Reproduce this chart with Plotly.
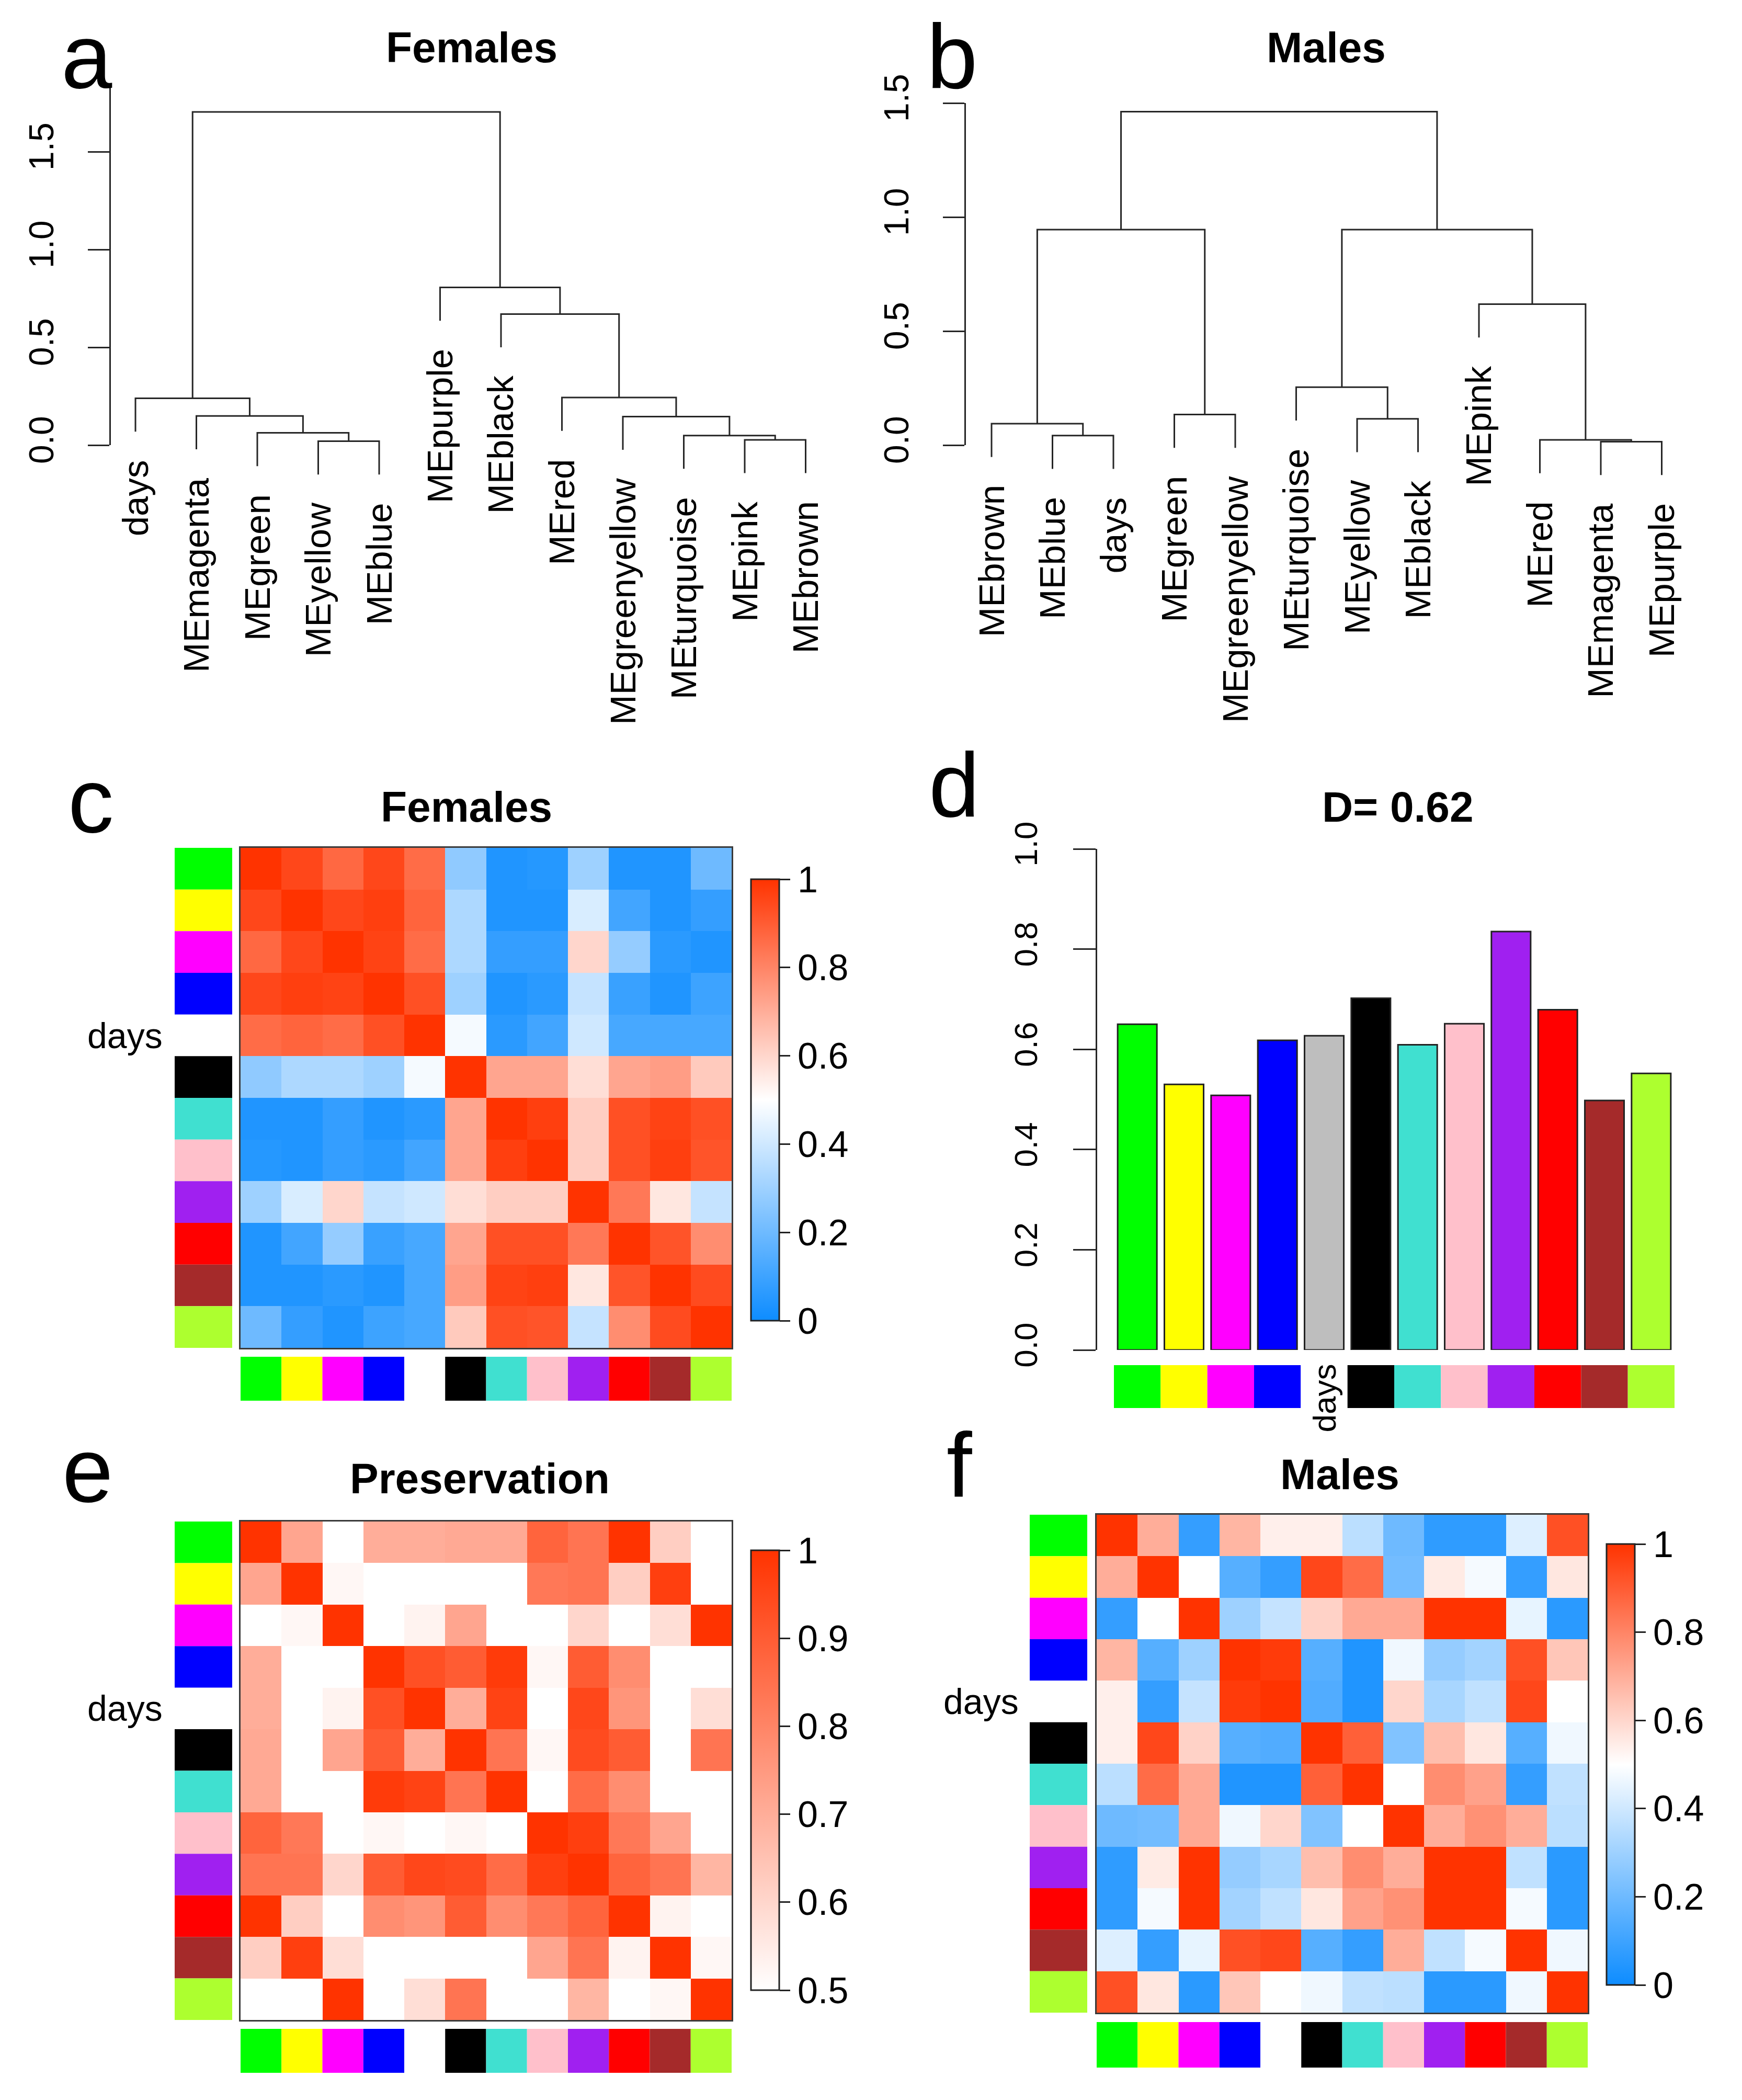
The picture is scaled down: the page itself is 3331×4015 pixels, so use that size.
import plotly.graph_objects as go

W, H = 3331, 4015
OFF = 8  # default page (body) margin of the written html
FONT = "Liberation Sans, Arial, Helvetica, sans-serif"

# ---------------- data ----------------
module_labels = ["MEgreen", "MEyellow", "MEmagenta", "MEblue", "days", "MEblack",
                 "MEturquoise", "MEpink", "MEpurple", "MEred", "MEbrown", "MEgreenyellow"]
strip_colors = ["#00FF00", "#FFFF00", "#FF00FF", "#0000FF", "#FFFFFF", "#000000",
                "#40E0D0", "#FFC0CB", "#A020F0", "#FF0000", "#A52A2A", "#ADFF2F"]
bar_colors = ["#00FF00", "#FFFF00", "#FF00FF", "#0000FF", "#BEBEBE", "#000000",
              "#40E0D0", "#FFC0CB", "#A020F0", "#FF0000", "#A52A2A", "#ADFF2F"]

fem_leaves = ["days", "MEmagenta", "MEgreen", "MEyellow", "MEblue", "MEpurple", "MEblack",
              "MEred", "MEgreenyellow", "MEturquoise", "MEpink", "MEbrown"]
# (child, child, height); integers refer to earlier merges
fem_merges = [("MEyellow", "MEblue", 0.020), ("MEgreen", 0, 0.063), ("MEmagenta", 1, 0.149),
              ("days", 2, 0.239), ("MEpink", "MEbrown", 0.027), ("MEturquoise", 4, 0.049),
              ("MEgreenyellow", 5, 0.146), ("MEred", 6, 0.243), ("MEblack", 7, 0.670),
              ("MEpurple", 8, 0.806), (3, 9, 1.703)]

male_leaves = ["MEbrown", "MEblue", "days", "MEgreen", "MEgreenyellow", "MEturquoise",
               "MEyellow", "MEblack", "MEpink", "MEred", "MEmagenta", "MEpurple"]
male_merges = [("MEblue", "days", 0.042), ("MEbrown", 0, 0.094), ("MEgreen", "MEgreenyellow", 0.134),
               (1, 2, 0.945), ("MEyellow", "MEblack", 0.115), ("MEturquoise", 4, 0.254),
               ("MEmagenta", "MEpurple", 0.015), ("MEred", 6, 0.023), ("MEpink", 7, 0.618),
               (5, 8, 0.945), (3, 9, 1.462)]

dendro_tickvals = [0.0, 0.5, 1.0, 1.5]
dendro_ticktext = ["0.0", "0.5", "1.0", "1.5"]

preservation_D = [0.650, 0.530, 0.508, 0.618, 0.627, 0.702, 0.609, 0.651, 0.835, 0.679, 0.498, 0.552]
bar_tickvals = [0.0, 0.2, 0.4, 0.6, 0.8, 1.0]
bar_ticktext = ["0.0", "0.2", "0.4", "0.6", "0.8", "1.0"]

fem_adj = [
    [1.00, 0.95, 0.87, 0.95, 0.86, 0.27, 0.04, 0.05, 0.30, 0.04, 0.04, 0.20],
    [0.95, 1.00, 0.95, 0.97, 0.88, 0.33, 0.04, 0.04, 0.42, 0.11, 0.04, 0.08],
    [0.87, 0.95, 1.00, 0.96, 0.86, 0.33, 0.08, 0.08, 0.60, 0.28, 0.06, 0.04],
    [0.95, 0.97, 0.96, 1.00, 0.93, 0.30, 0.04, 0.06, 0.38, 0.09, 0.04, 0.10],
    [0.86, 0.88, 0.86, 0.93, 1.00, 0.48, 0.06, 0.11, 0.40, 0.12, 0.12, 0.12],
    [0.27, 0.33, 0.33, 0.30, 0.48, 1.00, 0.72, 0.72, 0.58, 0.72, 0.74, 0.63],
    [0.04, 0.04, 0.08, 0.04, 0.06, 0.72, 1.00, 0.97, 0.62, 0.93, 0.96, 0.93],
    [0.05, 0.04, 0.08, 0.06, 0.11, 0.72, 0.97, 1.00, 0.62, 0.93, 0.97, 0.92],
    [0.30, 0.42, 0.60, 0.38, 0.40, 0.58, 0.62, 0.62, 1.00, 0.83, 0.56, 0.38],
    [0.04, 0.11, 0.28, 0.09, 0.12, 0.72, 0.93, 0.93, 0.83, 1.00, 0.92, 0.78],
    [0.04, 0.04, 0.06, 0.04, 0.12, 0.74, 0.96, 0.97, 0.56, 0.92, 1.00, 0.94],
    [0.20, 0.08, 0.04, 0.10, 0.12, 0.63, 0.93, 0.92, 0.38, 0.78, 0.94, 1.00],
]

male_adj = [
    [1.00, 0.70, 0.08, 0.68, 0.54, 0.54, 0.36, 0.20, 0.07, 0.07, 0.43, 0.93],
    [0.70, 1.00, 0.50, 0.15, 0.08, 0.95, 0.86, 0.21, 0.55, 0.48, 0.08, 0.56],
    [0.08, 0.50, 1.00, 0.30, 0.38, 0.61, 0.71, 0.71, 1.00, 1.00, 0.45, 0.06],
    [0.68, 0.15, 0.30, 1.00, 0.98, 0.15, 0.04, 0.47, 0.28, 0.31, 0.93, 0.64],
    [0.54, 0.08, 0.38, 0.98, 1.00, 0.14, 0.04, 0.60, 0.32, 0.37, 0.95, 0.50],
    [0.54, 0.95, 0.61, 0.15, 0.14, 1.00, 0.89, 0.24, 0.66, 0.56, 0.15, 0.47],
    [0.36, 0.86, 0.71, 0.04, 0.04, 0.89, 1.00, 0.50, 0.78, 0.73, 0.08, 0.37],
    [0.20, 0.21, 0.71, 0.47, 0.60, 0.24, 0.50, 1.00, 0.70, 0.77, 0.70, 0.36],
    [0.07, 0.55, 1.00, 0.28, 0.32, 0.66, 0.78, 0.70, 1.00, 1.00, 0.37, 0.06],
    [0.07, 0.48, 1.00, 0.31, 0.37, 0.56, 0.73, 0.77, 1.00, 1.00, 0.48, 0.06],
    [0.43, 0.08, 0.45, 0.93, 0.95, 0.15, 0.08, 0.70, 0.37, 0.48, 1.00, 0.47],
    [0.93, 0.56, 0.06, 0.64, 0.50, 0.47, 0.37, 0.36, 0.06, 0.06, 0.47, 1.00],
]

pres_mat = [
    [1.00, 0.72, 0.50, 0.70, 0.70, 0.71, 0.71, 0.88, 0.84, 1.00, 0.62, 0.50],
    [0.72, 1.00, 0.52, 0.50, 0.50, 0.50, 0.50, 0.83, 0.84, 0.62, 0.97, 0.50],
    [0.50, 0.52, 1.00, 0.50, 0.53, 0.72, 0.50, 0.50, 0.60, 0.50, 0.58, 1.00],
    [0.70, 0.50, 0.50, 1.00, 0.93, 0.90, 0.98, 0.52, 0.90, 0.78, 0.50, 0.50],
    [0.70, 0.50, 0.53, 0.93, 1.00, 0.70, 0.96, 0.50, 0.95, 0.76, 0.50, 0.58],
    [0.71, 0.50, 0.72, 0.90, 0.70, 1.00, 0.84, 0.52, 0.94, 0.90, 0.50, 0.84],
    [0.71, 0.50, 0.50, 0.98, 0.96, 0.84, 1.00, 0.50, 0.86, 0.78, 0.50, 0.50],
    [0.88, 0.83, 0.50, 0.52, 0.50, 0.52, 0.50, 1.00, 0.97, 0.83, 0.72, 0.50],
    [0.84, 0.84, 0.60, 0.90, 0.95, 0.94, 0.86, 0.97, 1.00, 0.88, 0.84, 0.68],
    [1.00, 0.62, 0.50, 0.78, 0.76, 0.90, 0.78, 0.83, 0.88, 1.00, 0.53, 0.50],
    [0.62, 0.97, 0.58, 0.50, 0.50, 0.50, 0.50, 0.72, 0.84, 0.53, 1.00, 0.52],
    [0.50, 0.50, 1.00, 0.50, 0.58, 0.84, 0.50, 0.50, 0.68, 0.50, 0.52, 1.00],
]

adj_tickvals = [0, 0.2, 0.4, 0.6, 0.8, 1.0]
adj_ticktext = ["0", "0.2", "0.4", "0.6", "0.8", "1"]
pres_tickvals = [0.5, 0.6, 0.7, 0.8, 0.9, 1.0]
pres_ticktext = ["0.5", "0.6", "0.7", "0.8", "0.9", "1"]

# ---------------- styles ----------------
BWR = [[0.0, "rgb(13,140,255)"], [0.5, "rgb(255,255,255)"], [1.0, "rgb(255,51,0)"]]
WR = [[0.0, "rgb(255,255,255)"], [1.0, "rgb(255,51,0)"]]
LINE = "#262626"

fig = go.Figure()
layout_axes = {}
annotations = []
counter = [0]


def clamp(v):
    return min(1.0, max(0.0, v))


def px_x(p):
    return (p - OFF) / W


def px_y(p):
    return 1 - (p - OFF) / H


def add_axes(x_px, y_px, xr, yr, xopts=None, yopts=None):
    counter[0] += 1
    s = "" if counter[0] == 1 else str(counter[0])
    xa = dict(domain=[clamp(px_x(x_px[0])), clamp(px_x(x_px[1]))], range=xr, anchor="y" + s,
              visible=False, fixedrange=True, showgrid=False, zeroline=False)
    ya = dict(domain=[clamp(px_y(y_px[1])), clamp(px_y(y_px[0]))], range=yr, anchor="x" + s,
              visible=False, fixedrange=True, showgrid=False, zeroline=False)
    if xopts:
        xa.update(xopts)
    if yopts:
        ya.update(yopts)
    layout_axes["xaxis" + s] = xa
    layout_axes["yaxis" + s] = ya
    return "x" + s, "y" + s


def text(x, y, s, size, bold=False, **kw):
    d = dict(x=x, y=y, text=("<b>%s</b>" % s) if bold else s, showarrow=False,
             font=dict(family=FONT, size=size, color="black"),
             xref="paper", yref="paper", xanchor="center", yanchor="middle")
    d.update(kw)
    annotations.append(d)


def dendro(leaves, merges):
    pos = {n: i for i, n in enumerate(leaves)}
    top = max(m[2] for m in merges)
    hang = 0.1 * top
    nodes, xs, ys, ends = [], [], [], {}
    for a, b, h in merges:
        pts = []
        for c in (a, b):
            if isinstance(c, int):
                pts.append(nodes[c])
            else:
                ends[c] = h - hang
                pts.append((pos[c], h - hang))
        (xa, ha), (xb, hb) = pts
        xs += [xa, xa, xb, xb, None]
        ys += [ha, h, h, hb, None]
        nodes.append(((xa + xb) / 2, h))
    return xs, ys, ends


def yaxis_style(tickvals, ticktext, pos_px, size, ticklen, standoff):
    return dict(visible=True, showline=True, linecolor=LINE, linewidth=3,
                ticks="outside", ticklen=ticklen, tickwidth=3, tickcolor=LINE,
                tickvals=tickvals, ticktext=ticktext, tickangle=-90,
                tickfont=dict(family=FONT, size=size, color="black"),
                anchor="free", position=px_x(pos_px), ticklabelstandoff=standoff)


def dendro_panel(leaves, merges, leaf0, pitch, base, scale, axis_px, axis_top):
    xs, ys, ends = dendro(leaves, merges)
    n = len(leaves)
    xr = [-0.5, n - 0.5]
    x_px = (leaf0 - pitch / 2, leaf0 + (n - 0.5) * pitch)
    lo, hi = -0.45, 1.85
    xa, ya = add_axes(x_px, (base - hi * scale, base - lo * scale), xr, [lo, hi])
    fig.add_trace(go.Scatter(x=xs, y=ys, mode="lines", line=dict(color=LINE, width=3),
                             xaxis=xa, yaxis=ya, showlegend=False, hoverinfo="skip"))
    # display axis (R style: line only from 0 to its top)
    xb, yb = add_axes(x_px, (base - axis_top * scale, base), xr, [0, axis_top],
                      yopts=yaxis_style(dendro_tickvals, dendro_ticktext, axis_px, 66, 41, 40))
    fig.add_trace(go.Scatter(x=[None], y=[None], xaxis=xb, yaxis=yb, showlegend=False,
                             hoverinfo="skip"))
    for name, h in ends.items():
        annotations.append(dict(x=leaves.index(name), y=h, xref=xa, yref=ya, text=name,
                                textangle=-90, showarrow=False, xanchor="center", yanchor="top",
                                yshift=-52, font=dict(family=FONT, size=69, color="black")))


def heat_panel(z, cscale, zmin, zmax, tickvals, ticktext, hx, hy, strip_x, bot_y, cb_x, cb_y, days_right):
    n = len(module_labels)
    idx = list(range(n))
    box = dict(visible=True, showline=True, mirror=True, linecolor="#3a3a3a", linewidth=3,
               showticklabels=False, ticks="")
    xa, ya = add_axes(hx, hy, [-0.5, n - 0.5], [n - 0.5, -0.5], xopts=box, yopts=box)
    fig.add_trace(go.Heatmap(z=z, x=idx, y=idx, colorscale=cscale, zmin=zmin, zmax=zmax,
                             xaxis=xa, yaxis=ya, hoverinfo="skip",
                             colorbar=dict(x=px_x(cb_x), xanchor="left", y=px_y((cb_y[0] + cb_y[1]) / 2),
                                           yanchor="middle", len=cb_y[1] - cb_y[0], lenmode="pixels",
                                           thickness=54, thicknessmode="pixels", xpad=0, ypad=0,
                                           outlinewidth=3, outlinecolor="#222", ticks="outside",
                                           ticklen=20, tickwidth=3, tickcolor="#222",
                                           tickvals=tickvals, ticktext=ticktext,
                                           tickfont=dict(family=FONT, size=70, color="black"))))
    xl, yl = add_axes(strip_x, hy, [0, 1], [n - 0.5, -0.5])
    fig.add_trace(go.Bar(x=[1] * n, y=idx, orientation="h", width=1, base=0,
                         marker=dict(color=strip_colors, line=dict(width=0)),
                         xaxis=xl, yaxis=yl, showlegend=False, hoverinfo="skip"))
    xbm, ybm = add_axes(hx, bot_y, [-0.5, n - 0.5], [0, 1])
    fig.add_trace(go.Bar(x=idx, y=[1] * n, width=1, base=0,
                         marker=dict(color=strip_colors, line=dict(width=0)),
                         xaxis=xbm, yaxis=ybm, showlegend=False, hoverinfo="skip"))
    annotations.append(dict(x=px_x(days_right), y=module_labels.index("days"), xref="paper", yref=ya,
                            text="days", showarrow=False, xanchor="right", yanchor="middle",
                            font=dict(family=FONT, size=68, color="black")))


# ---------------- panel a / b: dendrograms ----------------
dendro_panel(fem_leaves, fem_merges, 259, 116.5, 851, 374, 210, 1.83)
dendro_panel(male_leaves, male_merges, 1896, 116.5, 851, 436, 1845, 1.5)

# ---------------- panel c, e, f: heatmaps ----------------
heat_panel(fem_adj, BWR, 0, 1, adj_tickvals, adj_ticktext,
           (460, 1399), (1621, 2577), (334, 444), (2594, 2678), 1436, (1681, 2525), 313)
heat_panel(pres_mat, WR, 0.5, 1, pres_tickvals, pres_ticktext,
           (460, 1399), (2909, 3862), (334, 444), (3879, 3963), 1436, (2964, 3805), 313)
heat_panel(male_adj, BWR, 0, 1, adj_tickvals, adj_ticktext,
           (2097, 3036), (2896, 3848), (1969, 2079), (3866, 3953), 3072, (2952, 3795), 1950)

# ---------------- panel d: barplot ----------------
n = len(module_labels)
idx = list(range(n))
bx = (2130, 3202)
xd, yd = add_axes(bx, (1623, 2581), [-0.5, n - 0.5], [0, 1],
                  yopts=yaxis_style(bar_tickvals, bar_ticktext, 2096, 62, 43, 44))
fig.add_trace(go.Bar(x=idx, y=preservation_D, width=0.84,
                     marker=dict(color=bar_colors, line=dict(color="#222", width=3)),
                     xaxis=xd, yaxis=yd, showlegend=False, hoverinfo="skip"))
xs_, ys_ = add_axes(bx, (2610, 2692), [-0.5, n - 0.5], [0, 1])
fig.add_trace(go.Bar(x=idx, y=[1] * n, width=1, base=0,
                     marker=dict(color=strip_colors, line=dict(width=0)),
                     xaxis=xs_, yaxis=ys_, showlegend=False, hoverinfo="skip"))
annotations.append(dict(x=module_labels.index("days"), y=1, xref=xs_, yref=ys_, text="days",
                        textangle=-90, showarrow=False, xanchor="center", yanchor="top", yshift=4,
                        font=dict(family=FONT, size=62, color="black")))

# ---------------- titles & panel letters ----------------
text(px_x(902), px_y(90), "Females", 82, bold=True)
text(px_x(2536), px_y(90), "Males", 82, bold=True)
text(px_x(892), px_y(1542), "Females", 82, bold=True)
text(px_x(2672), px_y(1542), "D= 0.62", 82, bold=True)
text(px_x(917), px_y(2826), "Preservation", 82, bold=True)
text(px_x(2562), px_y(2818), "Males", 82, bold=True)

# letters at the very top are anchored to the page top so that they are not clipped
text(px_x(166), 1.0, "a", 175, yanchor="top")
text(px_x(1820), 1.0, "b", 175, yanchor="top")
for letter, (lx, ly) in {"c": (174, 1530), "d": (1824, 1500),
                         "e": (167, 2810), "f": (1834, 2800)}.items():
    text(px_x(lx), px_y(ly), letter, 175)

fig.update_layout(width=W, height=H, margin=dict(l=0, r=0, t=0, b=0, pad=0, autoexpand=False),
                  paper_bgcolor="white", plot_bgcolor="rgba(0,0,0,0)", showlegend=False,
                  barmode="overlay", annotations=annotations, **layout_axes)
fig.write_html("out.html")
